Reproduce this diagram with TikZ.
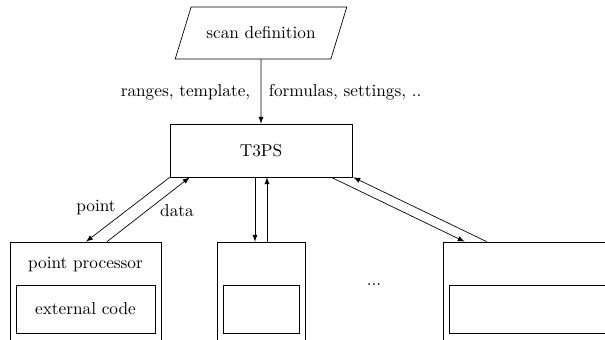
\documentclass[tikz,border=0pt]{standalone}
\usetikzlibrary{shapes.geometric,calc}
\newcommand\pxu{0.58pt}

\begin{document}
\begin{tikzpicture}[x=\pxu, y=-\pxu, >=latex,
  box/.style={draw, rectangle, inner sep=0pt},
  flow/.style={->}]
  \clip (0,0) rectangle (605,340);
  % input
  \node[draw, trapezium, trapezium left angle=60, trapezium right angle=120,
    trapezium stretches=true, minimum width=172*\pxu, minimum height=52*\pxu] (scandef) at (261,33) {scan definition};
  \node[box, minimum width=182*\pxu, minimum height=53*\pxu] (t3ps) at (261,150.5) {T3PS};
  \draw[flow] (scandef) -- (t3ps);
  \node[anchor=east, inner sep=2pt] (lbla) at (254,92) {ranges, template,};
  \node[anchor=west, inner sep=2pt] (lblb) at (265,92) {formulas, settings, ..};
  % processors
  \node[box, minimum width=151*\pxu, minimum height=103*\pxu] (pp) at (85.5,293.5) {};
  \node[box, minimum width=139*\pxu, minimum height=48*\pxu] (ext) at (85.5,309) {external code};
  \node (pptext) at (85.5,265) {point processor};
  \node[box, minimum width=88*\pxu, minimum height=103*\pxu] (mid) at (261,293.5) {};
  \node[box, minimum width=76*\pxu, minimum height=48*\pxu] (midin) at (261,309) {};
  \node (dots) at (374,285) {...};
  \node[box, minimum width=177*\pxu, minimum height=103*\pxu] (rt) at (531.5,293.5) {};
  \node[box, minimum width=165*\pxu, minimum height=48*\pxu] (rtin) at (531.5,309) {};
  % point / data
  \draw[flow] (t3ps.south west) -- ($(pp.north)+(0.5,0)$);
  \draw[flow] ($(pp.north)+(21.5,0)$) -- ($(t3ps.south west)+(20,0)$);
  \node (lblpoint) at (96,208) {point};
  \node (lbldata) at (177,211) {data};
  \draw[flow] ($(t3ps.south)+(-6,0)$) -- ($(mid.north)+(-6,0)$);
  \draw[flow] ($(mid.north)+(6,0)$) -- ($(t3ps.south)+(6,0)$);
  \draw[flow] ($(t3ps.south east)+(-21,0)$) -- ($(rt.north west)+(22,0)$);
  \draw[flow] ($(rt.north west)+(44,0)$) -- ($(t3ps.south east)+(1,0)$);
\end{tikzpicture}
\end{document}
